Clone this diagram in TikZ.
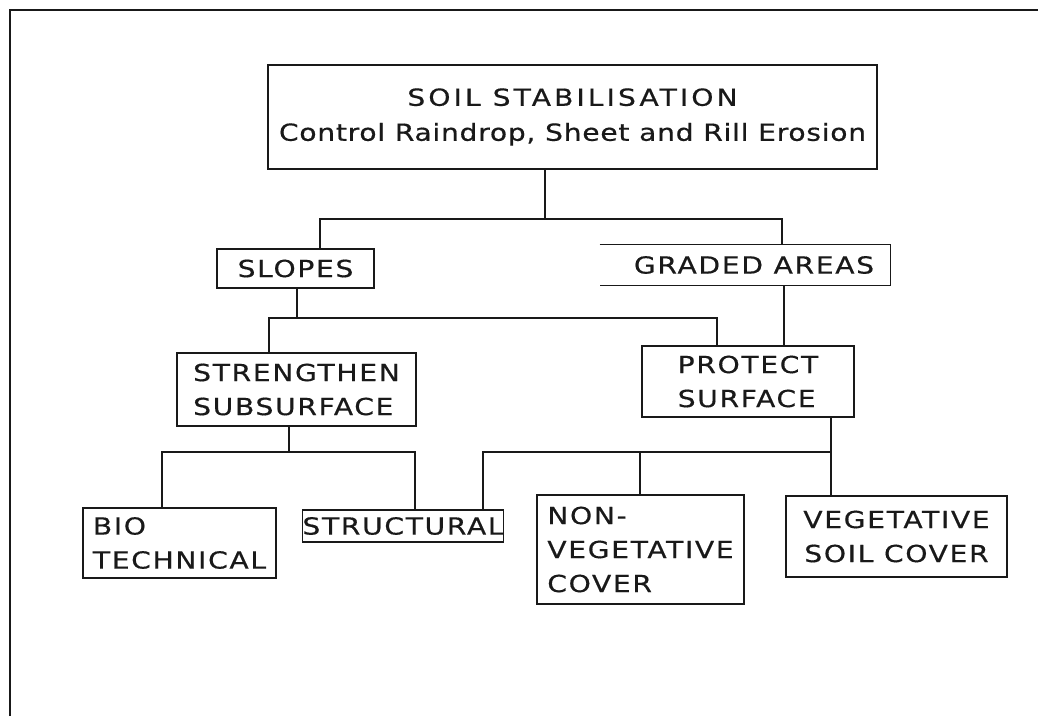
\documentclass[tikz,border=0pt]{standalone}
\usepackage{fontspec}
\usepackage{tikz}
\usetikzlibrary{positioning,calc}
\newfontfamily\soilfont[FakeStretch=1.2,LetterSpace=7,FakeBold=0.5]{DejaVu Sans}
\definecolor{soil@ink}{RGB}{25,25,25}
\tikzset{
  soil/.style={
    x=1pt, y=-1pt,
    line width=1pt,
    every node/.style={font=\soilfont\fontsize{23.5}{34}\selectfont, text=soil@ink}
  },
  sbox/.style={                    % boxed item
    draw=soil@ink, line width=1.3pt,
    inner sep=0pt,
    align=left
  },
  link/.style={draw=soil@ink, line width=1.1pt},
  frame/.style={draw=soil@ink, line width=2.4pt}
}
\begin{document}
\begin{tikzpicture}[soil]
\useasboundingbox (0,0) rectangle (1038,716);
% page frame (cropped)
\draw[frame] (10,716) -- (10,10) -- (1038,10);

% boxes
\node[sbox, align=center, minimum width=609, minimum height=104] (top) at (572.5,117)
  {{\addfontfeature{LetterSpace=13}SOIL STABILISATION}\\[1pt]
   {\addfontfeature{LetterSpace=3}Control Raindrop, Sheet and Rill Erosion}};
\node[sbox, minimum width=157, minimum height=39] (slopes) at (295.5,268.5) {SLOPES};
\node[inner sep=0pt, minimum width=290, minimum height=40] (graded) at (745,265)
  {\hspace*{18pt}GRADED AREAS};
\draw[sbox] (graded.north west) -- (graded.north east) -- (graded.south east) -- (graded.south west);
\node[sbox, minimum width=239, minimum height=73] (strength) at (296.5,389.5) {STRENGTHEN\\SUBSURFACE};
\node[sbox, minimum width=212, minimum height=71] (protect) at (748,381.5) {PROTECT\\SURFACE};
\node[sbox, minimum width=193, minimum height=70] (bio) at (179.5,543) {BIO\\TECHNICAL};
\node[sbox, minimum width=200, minimum height=32] (struct) at (403,526) {STRUCTURAL};
\node[sbox, minimum width=207, minimum height=109] (nonveg) at (640.5,549.5) {NON-\\VEGETATIVE\\COVER};
\node[sbox, align=center, minimum width=221, minimum height=81] (veg) at (896.5,536.5) {VEGETATIVE\\SOIL COVER};

% junction points
\coordinate (t0) at (545,219);
\coordinate (t1) at (320,219);
\coordinate (t2) at (782,219);
\coordinate (s0) at (297,318);
\coordinate (s1) at (269,318);
\coordinate (s2) at (717,318);
\coordinate (g0) at (784,318);
\coordinate (b0) at (289,452);
\coordinate (b1) at (162,452);
\coordinate (b2) at (415,452);
\coordinate (p0) at (831,452);
\coordinate (p1) at (483,452);

% top level
\draw[link] (top.south -| t0) -- (t0);
\draw[link] (t1 |- slopes.north) -- (t1) -- (t2) -- (t2 |- graded.north);

% slopes and graded areas
\draw[link] (slopes.south -| s0) -- (s0);
\draw[link] (s1 |- strength.north) -- (s1) -- (s2) -- (s2 |- protect.north);
\draw[link] (graded.south -| g0) -- (g0 |- protect.north);

% strengthen subsurface
\draw[link] (strength.south -| b0) -- (b0);
\draw[link] (b1 |- bio.north) -- (b1) -- (b2) -- (b2 |- struct.north);

% protect surface
\draw[link] (protect.south -| p0) -- (p0 |- veg.north);
\draw[link] (p1 |- struct.north) -- (p1) -- (p0);
\foreach \n/\x in {nonveg/640} {
  \draw[link] (\x,452) -- (\x,0 |- \n.north);
}
\end{tikzpicture}
\end{document}
